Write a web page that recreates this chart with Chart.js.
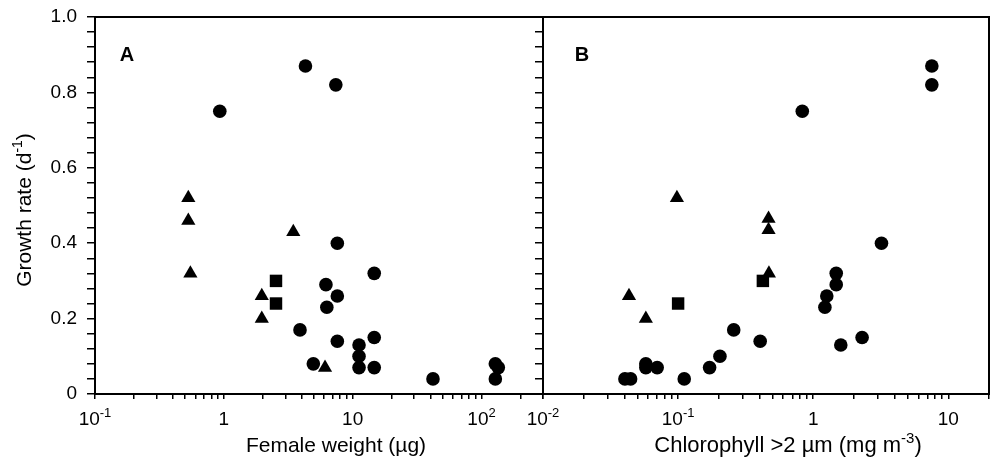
<!DOCTYPE html>
<html>
<head>
<meta charset="utf-8">
<script src="https://cdn.jsdelivr.net/npm/chart.js@4.4.1/dist/chart.umd.min.js"></script>
<style>
  html, body { margin: 0; padding: 0; background: #fff; }
  #wrap { position: relative; width: 991px; height: 460px; background: #fff; }
  #wrap canvas { position: absolute; left: 0; top: 0; }
</style>
</head>
<body>
<div id="wrap">
  <canvas id="chartA" width="991" height="460"></canvas>
  <canvas id="chartB" width="991" height="460"></canvas>
</div>
<script>
// ---------- Data: Panel A (x = female weight, µg) ----------
const aCircleX = [0.93, 4.3, 7.4, 7.6, 14.7, 6.2, 7.6, 6.3, 3.9, 7.6, 14.7, 11.2, 11.2, 11.2, 14.7, 4.95, 42, 128, 135, 128];
const aCircleY = [0.75, 0.87, 0.82, 0.40, 0.32, 0.29, 0.26, 0.23, 0.17, 0.14, 0.15, 0.13, 0.10, 0.07, 0.07, 0.08, 0.04, 0.08, 0.07, 0.04];
const aTriX = [0.53, 0.53, 0.55, 1.97, 1.97, 3.46, 6.1];
const aTriY = [0.52, 0.46, 0.32, 0.26, 0.20, 0.43, 0.07];
const aSqX = [2.54, 2.54];
const aSqY = [0.30, 0.24];

// ---------- Data: Panel B (x = chlorophyll >2 µm, mg m-3) ----------
const bCircleX = [7.55, 7.55, 0.83, 3.2, 1.48, 1.48, 1.26, 1.22, 2.3, 1.6, 0.258, 0.405, 0.204, 0.171, 0.111, 0.070, 0.0577, 0.0577, 0.0404, 0.0445];
const bCircleY = [0.87, 0.82, 0.75, 0.40, 0.32, 0.29, 0.26, 0.23, 0.15, 0.13, 0.17, 0.14, 0.10, 0.07, 0.04, 0.07, 0.08, 0.07, 0.04, 0.04];
const bTriX = [0.098, 0.467, 0.467, 0.47, 0.0433, 0.0577];
const bTriY = [0.52, 0.465, 0.435, 0.32, 0.26, 0.20];
const bSqX = [0.10, 0.424];
const bSqY = [0.24, 0.30];

// ---------- Axes ----------
const yMin = 0, yMax = 1.0, yMinorStep = 0.04;
const yTickLabels = ['0', '0.2', '0.4', '0.6', '0.8', '1.0'];
const xRangeA = [0.1, 300];
const xRangeB = [0.01, 20];
const xLabelValuesA = [0.1, 1, 10, 100];
const xLabelBaseA = ['10', '1', '10', '10'];
const xLabelExpA = ['-1', '', '', '2'];
const xLabelValuesB = [0.01, 0.1, 1, 10];
const xLabelBaseB = ['10', '10', '1', '10'];
const xLabelExpB = ['-2', '-1', '', ''];
const yTitleParts = [['Growth rate (d', false], ['-1', true], [')', false]];
const xTitlePartsA = [['Female weight (\u00B5g)', false]];
const xTitlePartsB = [['Chlorophyll >2 \u00B5m (mg m', false], ['-3', true], [')', false]];

const FONT = '"Liberation Sans", Arial, Helvetica, sans-serif';
const INK = '#000';

function pts(xs, ys) { return xs.map((x, i) => ({ x: x, y: ys[i] })); }

function logTicks(min, max) {
  const out = [];
  for (let e = Math.floor(Math.log10(min)); e <= Math.ceil(Math.log10(max)); e++) {
    for (let s = 1; s <= 9; s++) {
      const v = +(s * Math.pow(10, e)).toPrecision(6);
      if (v >= min * 0.9999 && v <= max * 1.0001) out.push({ value: v });
    }
  }
  return out;
}
function linTicks() {
  const out = [];
  const n = Math.round((yMax - yMin) / yMinorStep);
  for (let i = 0; i <= n; i++) out.push({ value: +(yMin + i * yMinorStep).toFixed(4) });
  return out;
}

function drawRich(ctx, parts, x, baseline, size, align) {
  const supSize = Math.round(size * 0.68);
  let total = 0;
  const widths = parts.map(([t, sup]) => {
    ctx.font = (sup ? supSize : size) + 'px ' + FONT;
    const w = ctx.measureText(t).width;
    total += w;
    return w;
  });
  let cx = align === 'center' ? x - total / 2 : (align === 'right' ? x - total : x);
  ctx.textAlign = 'left';
  ctx.textBaseline = 'alphabetic';
  parts.forEach(([t, sup], i) => {
    ctx.font = (sup ? supSize : size) + 'px ' + FONT;
    ctx.fillText(t, cx, sup ? baseline - size * 0.42 : baseline);
    cx += widths[i];
  });
}

function framePlugin() {
  return {
    id: 'frame',
    afterDatasetsDraw(chart) {
      const { ctx, chartArea: a } = chart;
      ctx.save();
      ctx.strokeStyle = INK;
      ctx.lineWidth = 2;
      ctx.beginPath();
      ctx.moveTo(a.left - 1, a.top);
      ctx.lineTo(a.right + 1, a.top);
      ctx.moveTo(a.right, a.top - 1);
      ctx.lineTo(a.right, a.bottom + 1);
      ctx.stroke();
      ctx.restore();
    }
  };
}

function textPlugin(cfg) {
  return {
    id: 'texts',
    afterDraw(chart) {
      const { ctx } = chart;
      const xs = chart.scales.x;
      ctx.save();
      ctx.fillStyle = INK;
      // x tick labels with superscripts
      cfg.labelValues.forEach((v, i) => {
        const px = xs.getPixelForValue(v);
        const parts = [[cfg.labelBase[i], false]];
        if (cfg.labelExp[i]) parts.push([cfg.labelExp[i], true]);
        drawRich(ctx, parts, px, 425, 19, 'center');
      });
      // x title
      drawRich(ctx, cfg.xTitle, cfg.xTitleX, 452, cfg.xTitleSize, 'center');
      // panel letter
      ctx.font = 'bold 20px ' + FONT;
      ctx.textAlign = 'center';
      ctx.textBaseline = 'alphabetic';
      ctx.fillText(cfg.letter, cfg.letterX, 61);
      // y title
      if (cfg.yTitle) {
        ctx.save();
        ctx.translate(31, 210);
        ctx.rotate(-Math.PI / 2);
        drawRich(ctx, cfg.yTitle, 0, 0, 21, 'center');
        ctx.restore();
      }
      ctx.restore();
    }
  };
}

function makeChart(id, opts) {
  const ds = (data, style, r) => ({
    data: data, pointStyle: style, pointRadius: r, pointHoverRadius: r,
    backgroundColor: INK, borderColor: INK, borderWidth: 0, showLine: false
  });
  return new Chart(document.getElementById(id), {
    type: 'scatter',
    data: {
      datasets: [
        ds(opts.circles, 'circle', 6.8),
        ds(opts.tris, 'triangle', 8.2),
        ds(opts.squares, 'rect', 8.8)
      ]
    },
    options: {
      responsive: false,
      animation: false,
      devicePixelRatio: 1,
      events: [],
      layout: { autoPadding: false, padding: { left: 0, top: 17, right: opts.padRight, bottom: 0 } },
      plugins: { legend: { display: false }, tooltip: { enabled: false } },
      scales: {
        x: {
          type: 'logarithmic',
          min: opts.range[0], max: opts.range[1],
          afterBuildTicks: (s) => { s.ticks = logTicks(opts.range[0], opts.range[1]); },
          afterFit: (s) => { s.height = 66; s.paddingLeft = 0; s.paddingRight = 0; },
          ticks: { display: false, autoSkip: false },
          grid: { drawOnChartArea: false, drawTicks: true, tickLength: 5, color: INK, lineWidth: 1.5 },
          border: { display: true, color: INK, width: 2 }
        },
        y: {
          type: 'linear',
          min: yMin, max: yMax,
          afterBuildTicks: (s) => { s.ticks = linTicks(); },
          afterFit: (s) => { s.width = opts.yWidth; s.paddingTop = 0; s.paddingBottom = 0; },
          ticks: {
            display: opts.showYLabels,
            autoSkip: false,
            padding: 10,
            color: INK,
            font: { family: FONT, size: 19 },
            callback: (v) => {
              const k = Math.round(v / 0.2 * 1000) / 1000;
              if (Math.abs(k - Math.round(k)) < 1e-6) return yTickLabels[Math.round(k)];
              return '';
            }
          },
          grid: { drawOnChartArea: false, drawTicks: true, tickLength: 8, color: INK, lineWidth: 1.5 },
          border: { display: true, color: INK, width: 2 }
        }
      }
    },
    plugins: [framePlugin(), textPlugin(opts.text)]
  });
}

makeChart('chartA', {
  circles: pts(aCircleX, aCircleY),
  tris: pts(aTriX, aTriY),
  squares: pts(aSqX, aSqY),
  range: xRangeA,
  padRight: 991 - 543,
  yWidth: 95,
  showYLabels: true,
  text: {
    labelValues: xLabelValuesA, labelBase: xLabelBaseA, labelExp: xLabelExpA,
    xTitle: xTitlePartsA, xTitleX: 336, xTitleSize: 21, letter: 'A', letterX: 127, yTitle: yTitleParts
  }
});

makeChart('chartB', {
  circles: pts(bCircleX, bCircleY),
  tris: pts(bTriX, bTriY),
  squares: pts(bSqX, bSqY),
  range: xRangeB,
  padRight: 2,
  yWidth: 543,
  showYLabels: false,
  text: {
    labelValues: xLabelValuesB, labelBase: xLabelBaseB, labelExp: xLabelExpB,
    xTitle: xTitlePartsB, xTitleX: 788, xTitleSize: 22, letter: 'B', letterX: 582, yTitle: null
  }
});
</script>
</body>
</html>
